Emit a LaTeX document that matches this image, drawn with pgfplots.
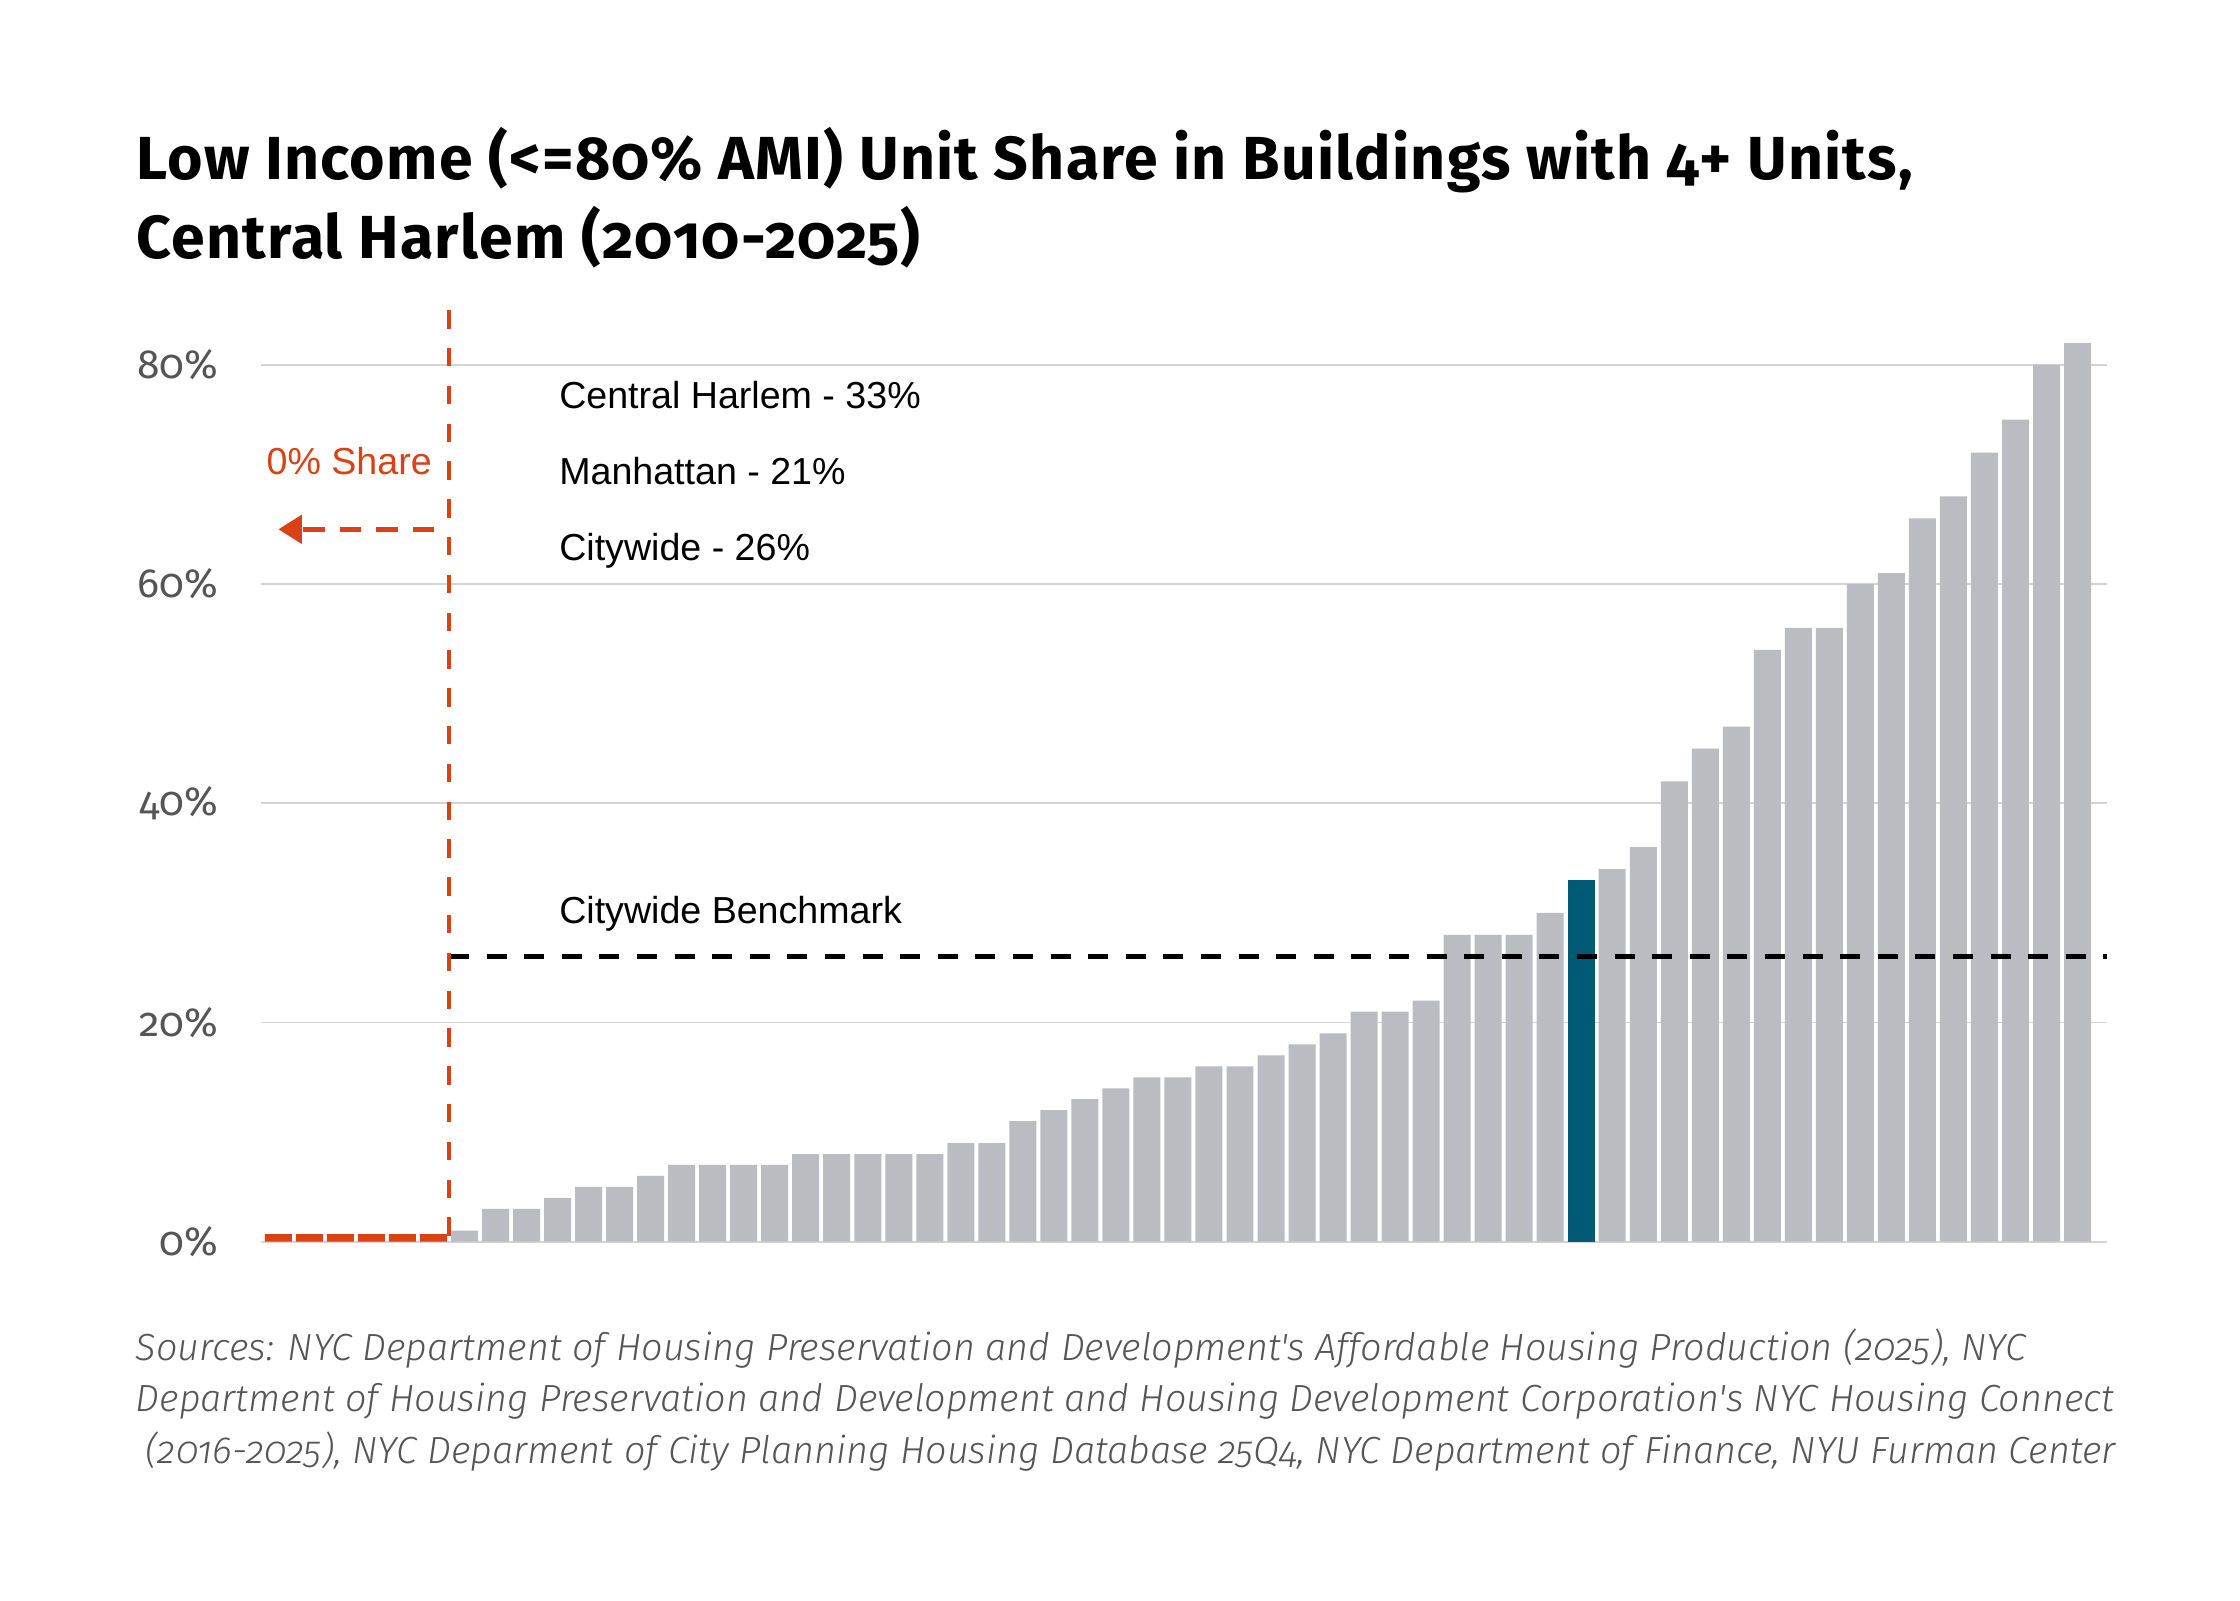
\documentclass[border=0pt]{standalone}
\usepackage{fontspec}
\setmainfont{Fira Sans}[Numbers=OldStyle]
\newfontfamily\titlefont{Fira Sans}[Numbers=OldStyle, LetterSpace=2.0]
\newfontfamily\srcfont{Fira Sans Light Italic}[Numbers=OldStyle]
\newfontfamily\annfont{Liberation Sans}
\usepackage{pgfplots}
\pgfplotsset{compat=1.18}
\usetikzlibrary{arrows.meta}
\definecolor{barg}{RGB}{187,188,193}
\definecolor{blueb}{RGB}{0,90,117}
\definecolor{redc}{RGB}{216,66,22}
\definecolor{tickg}{RGB}{85,85,85}
\definecolor{gridg}{RGB}{212,212,212}
\begin{document}
\begin{tikzpicture}
\useasboundingbox[fill=white] (0,0) rectangle (560pt,400pt);
\node[anchor=base west, inner sep=0pt, font=\titlefont\bfseries\fontsize{15.2}{20}\selectfont] at (34pt,355.25pt) {Low Income (<=80\% AMI) Unit Share in Buildings with 4+ Units,};
\node[anchor=base west, inner sep=0pt, font=\titlefont\bfseries\fontsize{15.2}{20}\selectfont] at (34pt,335.25pt) {Central Harlem (2010-2025)};
\node[anchor=base west, inner sep=0pt, text=tickg, font=\srcfont\fontsize{9.45}{12}\selectfont] at (33.75pt,59.8pt) {Sources: NYC Department of Housing Preservation and Development's Affordable Housing Production (2025), NYC};
\node[anchor=base west, inner sep=0pt, text=tickg, font=\srcfont\fontsize{9.45}{12}\selectfont] at (33.75pt,47.05pt) {Department of Housing Preservation and Development and Housing Development Corporation's NYC Housing Connect};
\node[anchor=base west, inner sep=0pt, text=tickg, font=\srcfont\fontsize{9.45}{12}\selectfont] at (36.25pt,34.25pt) {(2016-2025), NYC Deparment of City Planning Housing Database 25Q4, NYC Department of Finance, NYU Furman Center};
\begin{axis}[
  at={(65.25pt,89.58pt)}, anchor=south west,
  scale only axis, width=461.5pt, height=232.9pt,
  xmin=-0.56, xmax=58.95, ymin=0, ymax=85,
  axis line style={draw=none},
  xtick=\empty,
  ytick={0,20,40,60,80},
  ymajorgrids,
  major grid style={gridg, line width=0.45pt},
  tick style={draw=none},
  major tick length=0pt,
  yticklabel={\pgfmathparse{int(\tick)}\pgfmathresult\%},
  yticklabel style={font=\fontsize{10.2}{12}\selectfont, text=tickg, anchor=east, inner sep=0pt, xshift=-10.5pt},
  clip=false,
]
\addplot[ybar, bar width=0.87, bar shift=0pt, fill=redc, draw=none] coordinates {
(0,0.7)(1,0.7)(2,0.7)(3,0.7)(4,0.7)(5,0.7)};
\addplot[ybar, bar width=0.87, bar shift=0pt, fill=barg, draw=none] coordinates {
(6,1)(7,3)(8,3)(9,4)(10,5)(11,5)(12,6)(13,7)(14,7)(15,7)(16,7)(17,8)(18,8)(19,8)(20,8)(21,8)(22,9)(23,9)
(24,11)(25,12)(26,13)(27,14)(28,15)(29,15)(30,16)(31,16)(32,17)(33,18)(34,19)(35,21)(36,21)(37,22)
(38,28)(39,28)(40,28)(41,30)(43,34)(44,36)(45,42)(46,45)(47,47)(48,54)(49,56)(50,56)(51,60)(52,61)
(53,66)(54,68)(55,72)(56,75)(57,80)(58,82)};
\addplot[ybar, bar width=0.87, bar shift=0pt, fill=blueb, draw=none] coordinates {(42,33)};
% benchmark line
\addplot[black, line width=1.33pt, dash pattern=on 5pt off 4.4pt] coordinates {(5.5,26) (58.95,26)};
% red divider
\addplot[redc, line width=1pt, dash pattern=on 4.6pt off 4.85pt] coordinates {(5.5,85) (5.5,0)};
% arrow
\addplot[redc, line width=1.35pt, dash pattern=on 5.4pt off 3.7pt, dash phase=5.4pt, -{Triangle[length=5.9pt,width=7pt]}] coordinates {(5.5,65) (0,65)};
\node[anchor=base west, inner sep=0pt, font=\annfont\fontsize{9.4}{11}\selectfont] at (axis cs:9.03,76.0) {Central Harlem - 33\%};
\node[anchor=base west, inner sep=0pt, font=\annfont\fontsize{9.4}{11}\selectfont] at (axis cs:9.03,69.1) {Manhattan - 21\%};
\node[anchor=base west, inner sep=0pt, font=\annfont\fontsize{9.4}{11}\selectfont] at (axis cs:9.03,62.2) {Citywide - 26\%};
\node[anchor=base west, inner sep=0pt, font=\annfont\fontsize{9.4}{11}\selectfont] at (axis cs:9.03,29.0) {Citywide Benchmark};
\node[anchor=base east, inner sep=0pt, text=redc, font=\annfont\fontsize{9.4}{11}\selectfont] at (axis cs:4.97,70.0) {0\% Share};
\end{axis}
\end{tikzpicture}
\end{document}
